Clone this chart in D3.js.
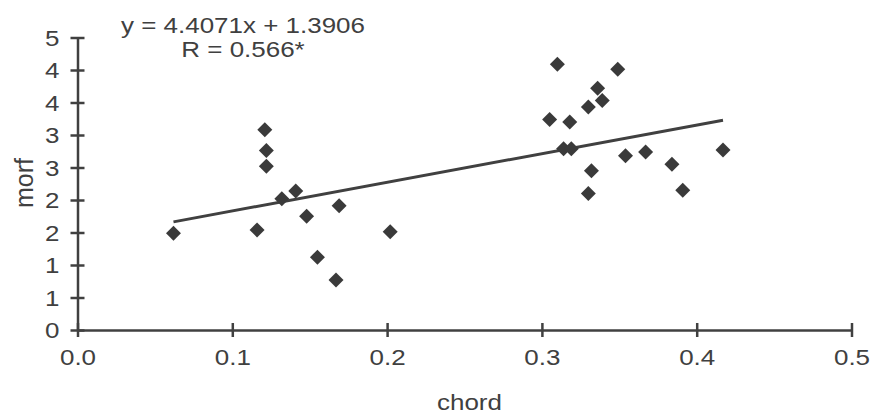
<!DOCTYPE html>
<html>
<head>
<meta charset="utf-8">
<script src="https://cdn.jsdelivr.net/npm/d3@7"></script>
<style>
  body { margin: 0; background: #fff; }
  text { font-family: "Liberation Sans", Arial, sans-serif; fill: #404040; }
</style>
</head>
<body>
<div id="chart"></div>
<script>
// chord vs morf
const chord = [0.062, 0.121, 0.122, 0.122, 0.132, 0.141, 0.116, 0.148, 0.169, 0.155,
               0.167, 0.202, 0.310, 0.349, 0.336, 0.339, 0.330, 0.305, 0.318, 0.314,
               0.319, 0.354, 0.367, 0.417, 0.384, 0.332, 0.330, 0.391];
const morf = [1.49, 3.08, 2.76, 2.52, 2.02, 2.14, 1.54, 1.75, 1.91, 1.12,
              0.77, 1.51, 4.09, 4.01, 3.72, 3.53, 3.43, 3.24, 3.20, 2.79,
              2.79, 2.68, 2.74, 2.77, 2.55, 2.45, 2.10, 2.15];

const xTicks = [0, 0.1, 0.2, 0.3, 0.4, 0.5];
const xTickLabels = ["0.0", "0.1", "0.2", "0.3", "0.4", "0.5"];
const yTicks = [0, 0.5, 1, 1.5, 2, 2.5, 3, 3.5, 4, 4.5];
const yTickLabels = ["0", "1", "1", "2", "2", "3", "3", "4", "4", "5"];

const slope = 4.4071, intercept = 1.3906;
const eqLines = ["y = 4.4071x + 1.3906", "R = 0.566*"];

const width = 870, height = 419;
const ink = "#404040";
const stretchK = 1.18; // picture text looks a bit wide

const svg = d3.select("#chart").append("svg")
    .attr("width", width)
    .attr("height", height);

const x = d3.scaleLinear().domain([0, 0.5]).range([77.5, 851.5]);
const y = d3.scaleLinear().domain([0, 4.5]).range([330, 37.5]);

function stretch(sel) {
    sel.each(function() {
        const w = this.getComputedTextLength();
        d3.select(this).attr("textLength", w * stretchK).attr("lengthAdjust", "spacingAndGlyphs");
    });
}

// axes
const xAxis = svg.append("g")
    .attr("transform", `translate(0,${y(0)})`)
    .call(d3.axisBottom(x).tickValues(xTicks).tickSize(0).tickFormat((d, i) => xTickLabels[i]));
const yAxis = svg.append("g")
    .attr("transform", `translate(${x(0)},0)`)
    .call(d3.axisLeft(y).tickValues(yTicks).tickSize(0).tickFormat((d, i) => yTickLabels[i]));

[xAxis, yAxis].forEach(g => {
    g.select(".domain").attr("stroke", ink).attr("stroke-width", 2.5);
    g.selectAll(".tick text").attr("font-size", 22).attr("fill", ink);
});
xAxis.selectAll(".tick line").attr("y1", -7).attr("y2", 7).attr("stroke", ink).attr("stroke-width", 2.5);
yAxis.selectAll(".tick line").attr("x1", -7).attr("x2", 7).attr("stroke", ink).attr("stroke-width", 2.5);
xAxis.selectAll(".tick text").attr("y", 35).attr("dy", 0);
yAxis.selectAll(".tick text").attr("x", -18).attr("dy", "0.36em");
xAxis.selectAll(".tick text").call(stretch);
yAxis.selectAll(".tick text").call(stretch);

// axis titles
svg.append("text")
    .attr("x", (x(0) + x(0.5)) / 2 + 5)
    .attr("y", 410)
    .attr("text-anchor", "middle")
    .attr("font-size", 22)
    .text("chord")
    .call(stretch);

svg.append("text")
    .attr("transform", `translate(33,183) rotate(-90)`)
    .attr("text-anchor", "middle")
    .attr("font-size", 25)
    .text("morf");

// trend line over the data range
const xr = d3.extent(chord);
svg.append("line")
    .attr("x1", x(xr[0])).attr("y1", y(slope * xr[0] + intercept))
    .attr("x2", x(xr[1])).attr("y2", y(slope * xr[1] + intercept))
    .attr("stroke", ink)
    .attr("stroke-width", 3);

// diamond markers
const diamond = d3.symbol().type(d3.symbolSquare).size(112);
svg.append("g")
    .selectAll("path")
    .data(chord.map((c, i) => ({c, m: morf[i]})))
    .join("path")
    .attr("d", diamond)
    .attr("transform", d => `translate(${x(d.c)},${y(d.m)}) rotate(45)`)
    .attr("fill", "#3a3a3a");

// equation label
svg.append("g")
    .selectAll("text")
    .data(eqLines)
    .join("text")
    .attr("x", 243)
    .attr("y", (d, i) => 33 + i * 24)
    .attr("text-anchor", "middle")
    .attr("font-size", 22)
    .text(d => d)
    .call(stretch);
</script>
</body>
</html>
